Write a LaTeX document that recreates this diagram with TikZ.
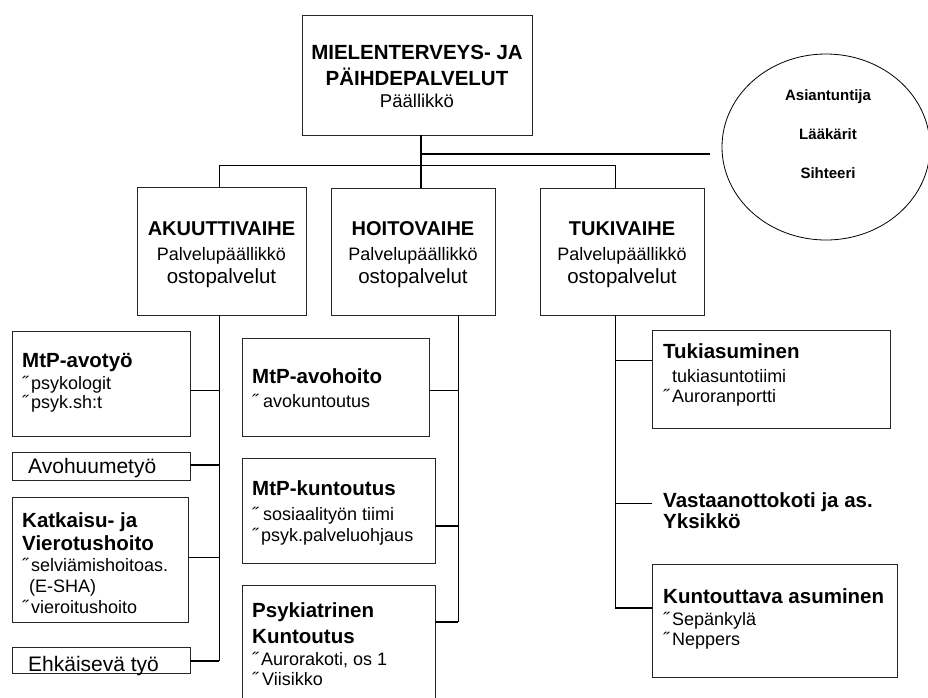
\documentclass[tikz,border=0pt]{standalone}
\usepackage{fontspec}
\setmainfont{Liberation Sans}
\usetikzlibrary{shapes.geometric}
\newcommand\setfs[1]{\fontsize{#1}{#1}\selectfont}
\tikzset{
 box/.style={draw=black!85, line width=0.8pt, anchor=north west, inner sep=0pt, outer sep=0pt},
 ln/.style={line width=0.8pt},
 thk/.style={line width=1.8pt},
 tl/.style={anchor=base west, inner sep=0pt, font=\setfs{18}},
 tb/.style={anchor=base west, inner sep=0pt, font=\setfs{20.5}\bfseries},
 tr/.style={anchor=base west, inner sep=0pt, font=\setfs{21}},
 tc/.style={anchor=base, inner sep=0pt},
}
\begin{document}
\begin{tikzpicture}[x=1pt,y=-1pt]
\clip (0,0) rectangle (928,697);
\fill[white] (0,0) rectangle (928,697);

% boxes
\node[box, minimum width=230, minimum height=120] (top) at (302,15) {};
\node[box, minimum width=169, minimum height=128] (ak) at (137,187) {};
\node[box, minimum width=164, minimum height=127] (ho) at (331,188) {};
\node[box, minimum width=164, minimum height=127] (tu) at (540,188) {};
\node[box, minimum width=178, minimum height=105] (avotyo) at (12,331) {};
\node[box, minimum width=178, minimum height=28] (avohuume) at (12,452) {};
\node[box, minimum width=176, minimum height=125] (katk) at (12,497) {};
\node[box, minimum width=178, minimum height=26] (ehk) at (12,647) {};
\node[box, minimum width=187, minimum height=98] (avohoito) at (242,338) {};
\node[box, minimum width=193, minimum height=105] (mtpk) at (242,458) {};
\node[box, minimum width=193, minimum height=130] (psyk) at (242,585) {};
\node[box, minimum width=238, minimum height=98] (tukias) at (652,330) {};
\node[box, minimum width=245, minimum height=113] (kunt) at (652,564) {};
\node[draw, ellipse, line width=0.8pt, inner sep=0pt, minimum width=208, minimum height=186] (circ) at (826,147) {};

% top box text
\node[tc, font=\setfs{20.5}\bfseries] (t1) at (417,59) {MIELENTERVEYS- JA};
\node[tc, font=\setfs{20.5}\bfseries] (t2) at (417,85) {PÄIHDEPALVELUT};
\node[tc, font=\setfs{18.5}] (t3) at (417,107) {Päällikkö};

% circle text
\node[tc, font=\setfs{15}\bfseries] (c1) at (828,100) {Asiantuntija};
\node[tc, font=\setfs{15}\bfseries] (c2) at (828,139) {Lääkärit};
\node[tc, font=\setfs{15}\bfseries] (c3) at (828,178) {Sihteeri};

% phase texts
\node[tc, font=\setfs{20}\bfseries] (ak1) at (221.5,235) {AKUUTTIVAIHE};
\node[tc, font=\setfs{18}] (ak2) at (221.5,260) {Palvelupäällikkö};
\node[tc, font=\setfs{20.5}] (ak3) at (221.5,283) {ostopalvelut};
\node[tc, font=\setfs{20}\bfseries] (ho1) at (413,235) {HOITOVAIHE};
\node[tc, font=\setfs{18}] (ho2) at (413,260) {Palvelupäällikkö};
\node[tc, font=\setfs{20.5}] (ho3) at (413,283) {ostopalvelut};
\node[tc, font=\setfs{20}\bfseries] (tu1) at (622,235) {TUKIVAIHE};
\node[tc, font=\setfs{18}] (tu2) at (622,260) {Palvelupäällikkö};
\node[tc, font=\setfs{20.5}] (tu3) at (622,283) {ostopalvelut};

% left column texts
\node[tb] (a1) at (22,367) {MtP-avotyö};
\node[tl] (a2) at (22,389) {˝\kern3pt psykologit};
\node[tl] (a3) at (22,408) {˝\kern3pt psyk.sh:t};
\node[tr] (h1) at (28,473) {Avohuumetyö};
\node[tb] (k1) at (22,527) {Katkaisu- ja};
\node[tb] (k2) at (22,550) {Vierotushoito};
\node[tl] (k3) at (22,571) {˝\kern3pt selviämishoitoas.};
\node[tl] (k4) at (29,592) {(E-SHA)};
\node[tl] (k5) at (22,613) {˝\kern3pt vieroitushoito};
\node[tr] (e1) at (28,671) {Ehkäisevä työ};

% middle column texts
\node[tb] (m1) at (252,383) {MtP-avohoito};
\node[tl] (m2) at (252,407) {˝\kern5pt avokuntoutus};
\node[tb] (n1) at (252,495) {MtP-kuntoutus};
\node[tl] (n2) at (252,520) {˝\kern5pt sosiaalityön tiimi};
\node[tl] (n3) at (252,541) {˝\kern3pt psyk.palveluohjaus};
\node[tb] (p1) at (252,617) {Psykiatrinen};
\node[tb] (p2) at (252,643) {Kuntoutus};
\node[tl] (p3) at (252,665) {˝\kern3pt Aurorakoti, os 1};
\node[tl] (p4) at (252,685) {˝\kern4pt Viisikko};

% right column texts
\node[tb] (r1) at (663,358) {Tukiasuminen};
\node[tl] (r2) at (672,382) {tukiasuntotiimi};
\node[tl] (r3) at (663,402) {˝\kern3pt Auroranportti};
\node[tb] (v1) at (663,507) {Vastaanottokoti ja as.};
\node[tb] (v2) at (663,528) {Yksikkö};
\node[tb] (u1) at (663,603) {Kuntouttava asuminen};
\node[tl] (u2) at (663,625) {˝\kern3pt Sepänkylä};
\node[tl] (u3) at (663,645) {˝\kern3pt Neppers};

% junction coordinates
\coordinate (j1) at (421,154);
\coordinate (j2) at (710,154);
\coordinate (b1) at (219,165);
\coordinate (b2) at (615,165);
\coordinate (la) at (219,390);
\coordinate (lb) at (219,465);
\coordinate (lc) at (219,557);
\coordinate (ld) at (219,661);
\coordinate (ma) at (458,390);
\coordinate (mb) at (458,526);
\coordinate (mc) at (458,622);
\coordinate (ra) at (615,360);
\coordinate (rb) at (615,503);
\coordinate (rc) at (615,608);
\coordinate (vend) at (652,503);

% top connectors
\draw[thk] (j1 |- top.south) -- (j1 |- ho.north);
\draw[thk] (j1) -- (j2);
\draw[ln] (b1 |- ak.north) -- (b1) -- (b2) -- (b2 |- tu.north);

% left column
\draw[ln] (la |- ak.south) -- (ld);
\draw[ln] (la -| avotyo.east) -- (la);
\draw[thk] (lb -| avohuume.east) -- (lb);
\draw[ln] (lc -| katk.east) -- (lc);
\draw[thk] (ld -| ehk.east) -- ([xshift=0.4pt]ld);

% middle column
\draw[ln] (ma |- ho.south) -- (mc);
\draw[ln] (ma -| avohoito.east) -- (ma);
\draw[thk] (mb -| mtpk.east) -- (mb);
\draw[thk] (mc -| psyk.east) -- ([xshift=0.4pt]mc);

% right column
\draw[ln] (ra |- tu.south) -- (rc);
\draw[ln] (ra -| tukias.west) -- (ra);
\draw[ln] (vend) -- (rb);
\draw[thk] (rc -| kunt.west) -- ([xshift=-0.4pt]rc);
\end{tikzpicture}
\end{document}
